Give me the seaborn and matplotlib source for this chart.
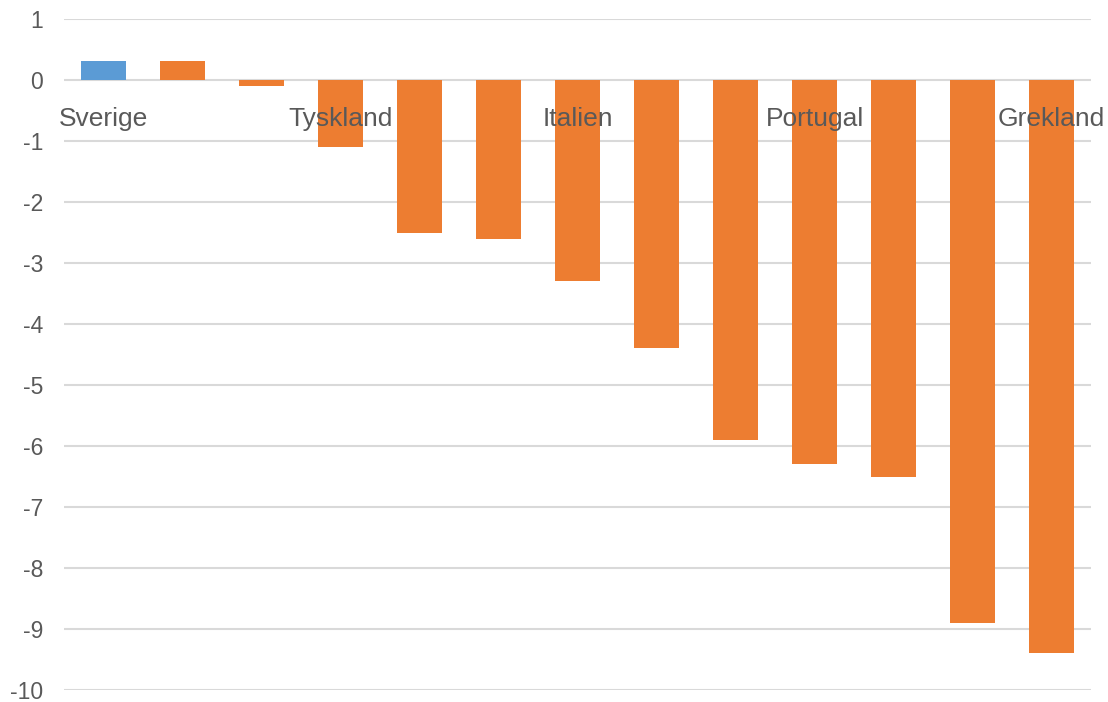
import pandas as pd
import matplotlib.pyplot as plt
import seaborn as sns

# bar values, left to right
values = [0.31, 0.31, -0.1, -1.1, -2.5, -2.6, -3.3, -4.4, -5.9, -6.3, -6.5, -8.9, -9.4]
# only every third category is labelled in the original
labels = ['Sverige', '', '', 'Tyskland', '', '', 'Italien', '', '', 'Portugal', '', '', 'Grekland']
bar_colors = ['#5B9BD5'] + ['#ED7D31'] * 12
yticks = list(range(-10, 2))

df = pd.DataFrame({'pos': [str(i) for i in range(len(values))], 'value': values})

sns.set_style('white')
plt.rcParams['font.family'] = ['Liberation Sans', 'DejaVu Sans']

fig = plt.figure(figsize=(11.08, 7.02), dpi=100)
ax = fig.add_axes([0.0578, 0.0171, 0.9269, 0.9558])

sns.barplot(data=df, x='pos', y='value', hue='pos', palette=bar_colors,
            legend=False, width=0.58, saturation=1, linewidth=0,
            ax=ax, zorder=2)

ax.set_ylim(-10, 1)
ax.set_xlim(-0.5, len(values) - 0.5)
ax.set_yticks(yticks)
ax.set_yticklabels([str(t) for t in yticks], fontsize=16.5, color='#595959')
ax.tick_params(axis='y', length=0, pad=15)
ax.set_xticks([])
ax.set_xlabel('')
ax.set_ylabel('')
ax.grid(axis='y', color='#D9D9D9', linewidth=1.5, zorder=0)
ax.set_axisbelow(True)
for s in ax.spines.values():
    s.set_visible(False)

for i, lab in enumerate(labels):
    if lab:
        ax.text(i, -0.64, lab, ha='center', va='center', fontsize=19,
                color='#595959', zorder=5)

fig.savefig('out.png', dpi=100)
